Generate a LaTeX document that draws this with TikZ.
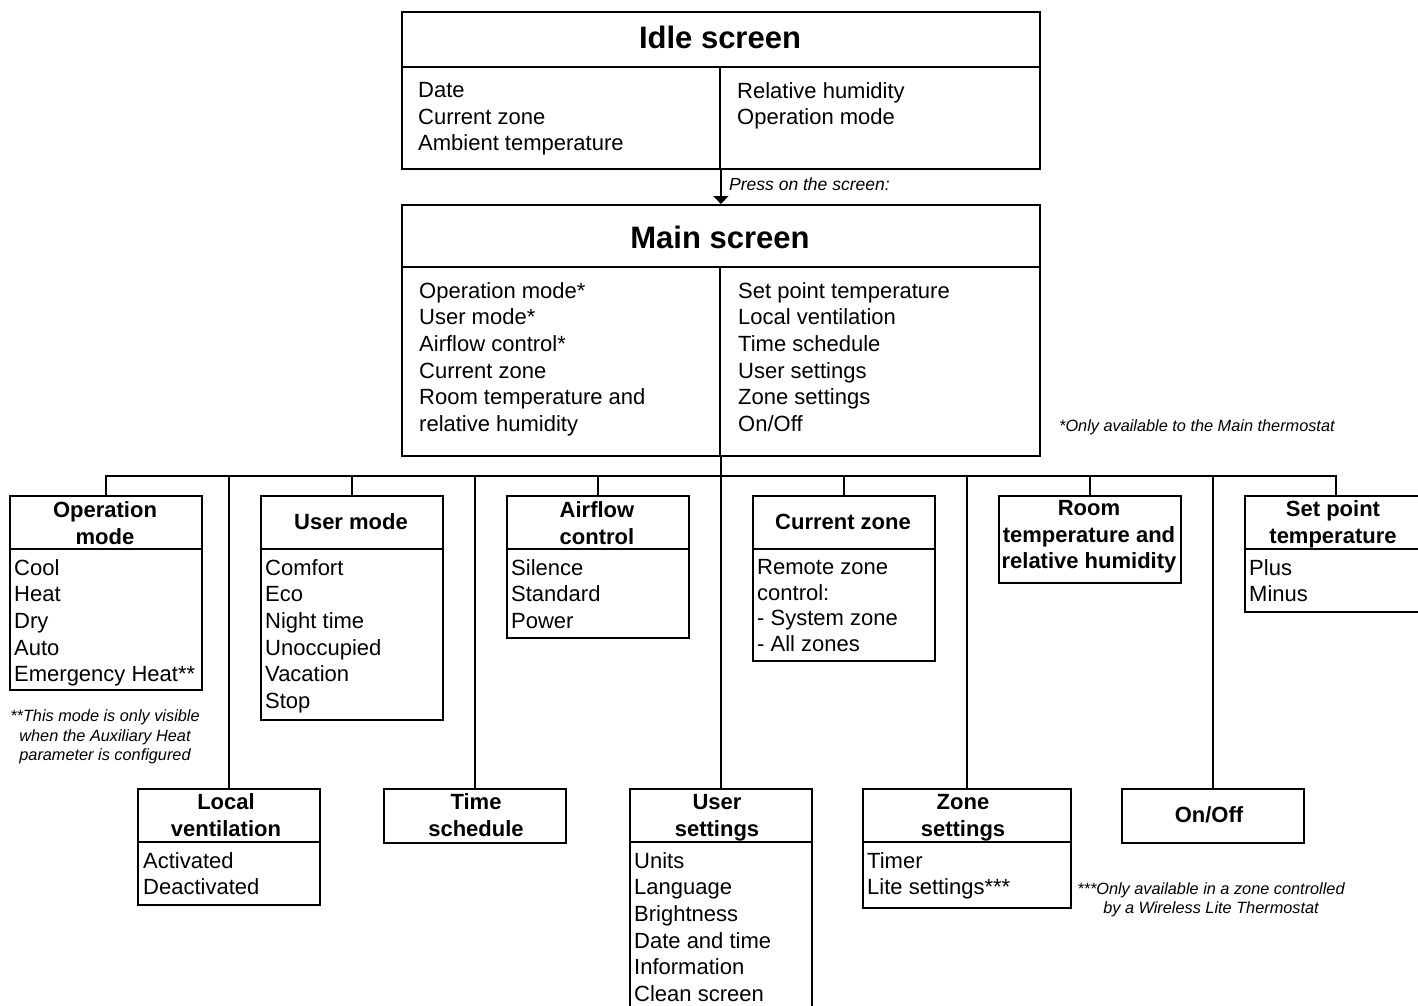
\documentclass[tikz,border=0pt]{standalone}
\usepackage{fontspec}
\setmainfont{Liberation Sans}
\usetikzlibrary{arrows.meta}
\begin{document}
\begin{tikzpicture}[x=1pt,y=-1pt,
  box/.style={draw,line width=1.8pt,inner sep=0pt,anchor=north west},
  ttl/.style={font=\fontsize{22}{26.7}\selectfont\bfseries,align=center,inner sep=0pt},
  big/.style={font=\fontsize{31}{36}\selectfont\bfseries,inner sep=0pt},
  lst/.style={font=\fontsize{22}{26.7}\selectfont,align=left,anchor=north west,inner sep=0pt},
  note/.style={font=\fontsize{16.3}{19.5}\selectfont\itshape,align=center,inner sep=0pt},
  ln/.style={line width=1.8pt}]
\useasboundingbox (0,0) rectangle (1418,1005);
\clip (0,0) rectangle (1418,1005);
\fill[white] (0,0) rectangle (1418,1005);
% Idle screen
\node[box,minimum width=638pt,minimum height=157pt] (idle) at (401,11) {};
\node[big] (idlet) at (720,37) {Idle screen};
\draw[ln] (401,67) -- (1039,67);
\draw[ln] (720,67) -- (720,168);
\node[lst] (idlel) at (418,82) {Date\\Current zone\\Ambient temperature};
\node[lst] (idler) at (737,82) {Relative humidity\\Operation mode};
% Main screen
\node[box,minimum width=638pt,minimum height=251pt] (main) at (401,204) {};
\node[big] (maint) at (720,237) {Main screen};
\draw[ln] (401,267) -- (1039,267);
\draw[ln] (720,267) -- (720,455);
\node[lst] (mainl) at (419,282) {Operation mode*\\User mode*\\Airflow control*\\Current zone\\Room temperature and\\relative humidity};
\node[lst] (mainr) at (738,282) {Set point temperature\\Local ventilation\\Time schedule\\User settings\\Zone settings\\On/Off};
\node[note,anchor=west] (note1) at (1059,427) {*Only available to the Main thermostat};
% arrow
\draw[ln,-{Triangle[length=8pt,width=15pt]}] (idle.south) -- (main.north);
\node[note,anchor=west,font=\fontsize{17.5}{20}\selectfont\itshape] (press) at (729,184) {Press on the screen:};
% top row boxes
\node[box,minimum width=192pt,minimum height=194pt] (opm) at (9,495) {};
\draw[ln] (9,549) -- (201,549);
\node[ttl] (opmt) at (105,523) {Operation\\mode};
\node[lst] (opml) at (14,559) {Cool\\Heat\\Dry\\Auto\\Emergency Heat**};
\node[note] (note2) at (105,737) {**This mode is only visible\\when the Auxiliary Heat\\parameter is configured};

\node[box,minimum width=182pt,minimum height=224pt] (um) at (260,495) {};
\draw[ln] (260,549) -- (442,549);
\node[ttl] (umt) at (351,522) {User mode};
\node[lst] (uml) at (265,559) {Comfort\\Eco\\Night time\\Unoccupied\\Vacation\\Stop};

\node[box,minimum width=182pt,minimum height=142pt] (af) at (506,495) {};
\draw[ln] (506,549) -- (688,549);
\node[ttl] (aft) at (597,523) {Airflow\\control};
\node[lst] (afl) at (511,559) {Silence\\Standard\\Power};

\node[box,minimum width=182pt,minimum height=165pt] (cz) at (752,495) {};
\draw[ln] (752,549) -- (934,549);
\node[ttl] (czt) at (843,522) {Current zone};
\node[lst,font=\fontsize{22}{25.8}\selectfont] (czl) at (757,559) {Remote zone\\control:\\- System zone\\- All zones};

\node[box,minimum width=182pt,minimum height=87pt] (room) at (998,495) {};
\node[ttl] (roomt) at (1089,537) {Room\\temperature and\\relative humidity};

\node[box,minimum width=182pt,minimum height=116pt] (setp) at (1244,495) {};
\draw[ln] (1244,549) -- (1426,549);
\node[ttl] (setpt) at (1333,524) {Set point\\temperature};
\node[lst] (setpl) at (1249,559) {Plus\\Minus};

% bottom row boxes
\node[box,minimum width=182pt,minimum height=116pt] (lv) at (137,788) {};
\draw[ln] (137,842) -- (319,842);
\node[ttl] (lvt) at (226,815) {Local\\ventilation};
\node[lst] (lvl) at (143,852) {Activated\\Deactivated};

\node[box,minimum width=182pt,minimum height=54pt] (ts) at (383,788) {};
\node[ttl] (tst) at (476,815) {Time\\schedule};

\node[box,minimum width=182pt,minimum height=235pt] (us) at (629,788) {};
\draw[ln] (629,842) -- (811,842);
\node[ttl] (ust) at (717,818) {User\\settings};
\node[lst] (usl) at (634,852) {Units\\Language\\Brightness\\Date and time\\Information\\Clean screen};

\node[box,minimum width=208pt,minimum height=119pt] (zs) at (862,788) {};
\draw[ln] (862,842) -- (1070,842);
\node[ttl] (zst) at (963,818) {Zone\\settings};
\node[lst] (zsl) at (867,852) {Timer\\Lite settings***};
\node[note] (note3) at (1211,900) {***Only available in a zone controlled\\by a Wireless Lite Thermostat};

\node[box,minimum width=182pt,minimum height=54pt] (onoff) at (1121,788) {};
\node[ttl] (onofft) at (1209,815) {On/Off};

% connectors
\coordinate (bus) at (720,476);
\draw[ln] (opm.north) -- (opm.north |- bus) -- (setp.north |- bus) -- (setp.north);
\foreach \n in {um,af,cz,room,lv,ts,zs,onoff} \draw[ln] (\n.north |- bus) -- (\n.north);
\draw[ln] (main.south) -- (us.north);
\end{tikzpicture}
\end{document}
